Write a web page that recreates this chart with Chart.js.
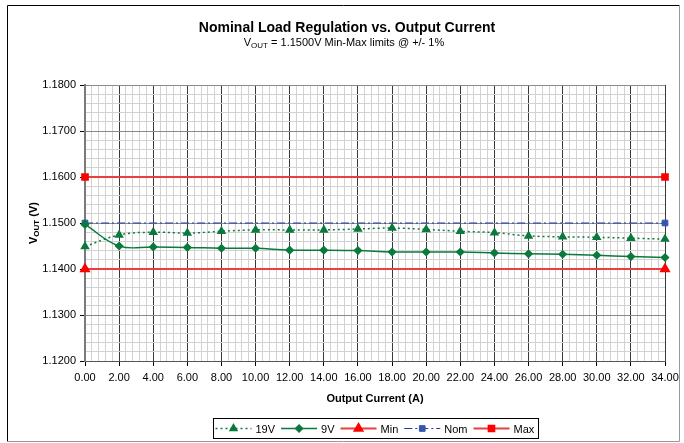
<!DOCTYPE html>
<html>
<head>
<meta charset="utf-8">
<script src="https://cdn.jsdelivr.net/npm/chart.js@4.4.0/dist/chart.umd.min.js"></script>
<style>
    html, body { margin: 0; padding: 0; background: #fff; }
    #wrap { width: 684px; height: 443px; position: relative; }
</style>
</head>
<body>
<div id="wrap"><canvas id="myChart"></canvas></div>
<script>
// values
const currents = [0, 2, 4, 6, 8, 10, 12, 14, 16, 18, 20, 22, 24, 26, 28, 30, 32, 34];
const v19 = [1.1449, 1.1474, 1.1480, 1.1478, 1.1482, 1.1485, 1.1485, 1.1485, 1.1487, 1.1489,
             1.1486, 1.1482, 1.1479, 1.1472, 1.1470, 1.1469, 1.1467, 1.1465];
const v9 = [1.1497, 1.1450, 1.1448, 1.1447, 1.1445, 1.1445, 1.1441, 1.1441, 1.1440, 1.1437,
            1.1437, 1.1437, 1.1435, 1.1433, 1.1432, 1.1430, 1.1427, 1.1425];
const limitX = [0, 34];
const minLimit = [1.14, 1.14];
const nomLimit = [1.15, 1.15];
const maxLimit = [1.16, 1.16];

const xMajorTicks = [0, 2, 4, 6, 8, 10, 12, 14, 16, 18, 20, 22, 24, 26, 28, 30, 32, 34];
const yMajorTicks = [1.12, 1.13, 1.14, 1.15, 1.16, 1.17, 1.18];
const xMinorPerMajor = 5;   // 0.4 A steps
const yMinorPerMajor = 5;   // 0.002 V steps

const FONT = '"Liberation Sans", Arial, sans-serif';
const GREEN = "#0a7a3c";

function pairs(xs, ys) {
    return xs.map((x, i) => ({ x: x, y: ys[i] }));
}

// builds minor grid positions between the major ticks
function withMinors(majors, per, digits) {
    const out = [];
    for (let i = 0; i < majors.length - 1; i++) {
        const step = (majors[i + 1] - majors[i]) / per;
        for (let k = 0; k < per; k++) {
            out.push({ value: +(majors[i] + k * step).toFixed(digits), major: k === 0 });
        }
    }
    out.push({ value: majors[majors.length - 1], major: true });
    return out;
}

function isMajor(ctx) {
    return ctx.tick && ctx.tick.major;
}

// text with a subscript part, e.g. V + OUT
function subText(ctx, parts, x, y, size, bold, align) {
    const w = parts.map(p => {
        ctx.font = (bold ? "bold " : "") + (p.sub ? Math.round(size * 0.72) : size) + "px " + FONT;
        return ctx.measureText(p.t).width;
    });
    const total = w.reduce((a, b) => a + b, 0);
    let px = align === "center" ? x - total / 2 : x;
    parts.forEach((p, i) => {
        ctx.font = (bold ? "bold " : "") + (p.sub ? Math.round(size * 0.72) : size) + "px " + FONT;
        ctx.fillText(p.t, px, p.sub ? y + size * 0.25 : y);
        px += w[i];
    });
}

const decorations = {
    id: "decorations",
    afterDraw(chart) {
        const ctx = chart.ctx;
        const area = chart.chartArea;
        ctx.save();

        // frame
        ctx.lineWidth = 1;
        ctx.strokeStyle = "#000";
        ctx.beginPath();
        ctx.moveTo(7.5, 441.5); ctx.lineTo(7.5, 5.5); ctx.lineTo(679.5, 5.5);
        ctx.stroke();
        ctx.strokeStyle = "#999";
        ctx.beginPath();
        ctx.moveTo(679.5, 5.5); ctx.lineTo(679.5, 441.5); ctx.lineTo(7.5, 441.5);
        ctx.stroke();

        // titles
        ctx.fillStyle = "#000";
        ctx.textBaseline = "middle";
        ctx.textAlign = "left";
        subText(ctx, [{ t: "Nominal Load Regulation vs. Output Current" }], 347, 28, 14, true, "center");
        subText(ctx, [{ t: "V" }, { t: "OUT", sub: true }, { t: " = 1.1500V Min-Max limits @ +/- 1%" }],
            344, 43, 11, false, "center");

        // y axis title
        ctx.save();
        ctx.translate(34, (area.top + area.bottom) / 2);
        ctx.rotate(-Math.PI / 2);
        subText(ctx, [{ t: "V" }, { t: "OUT", sub: true }, { t: " (V)" }], 0, 0, 11, true, "center");
        ctx.restore();

        // legend
        const items = chart.data.datasets;
        ctx.font = "11px " + FONT;
        const lineLen = 36, gapText = 4, gapItem = 6, padL = 2, padR = 4;
        let total = padL + padR;
        items.forEach((d, i) => {
            total += lineLen + gapText + ctx.measureText(d.label).width + (i < items.length - 1 ? gapItem : 0);
        });
        const bx = Math.round((area.left + area.right) / 2 - total / 2) + 0.5;
        const by = 418.5, bh = 20;
        ctx.strokeStyle = "#000";
        ctx.lineWidth = 1;
        ctx.strokeRect(bx, by, Math.round(total), bh);
        const cy = by + bh / 2;
        let px = bx + padL;
        items.forEach(d => {
            ctx.beginPath();
            ctx.setLineDash(d.borderDash || []);
            ctx.strokeStyle = d.borderColor;
            ctx.lineWidth = d.borderWidth;
            ctx.moveTo(px, cy);
            ctx.lineTo(px + lineLen, cy);
            ctx.stroke();
            ctx.setLineDash([]);
            ctx.fillStyle = d.pointBackgroundColor;
            ctx.strokeStyle = d.pointBorderColor;
            Chart.helpers.drawPoint(ctx, { pointStyle: d.pointStyle, radius: d.pointRadius, borderWidth: 1, rotation: 0 },
                px + lineLen / 2, cy);
            px += lineLen + gapText;
            ctx.fillStyle = "#000";
            ctx.fillText(d.label, px, cy + 1);
            px += ctx.measureText(d.label).width + gapItem;
        });
        ctx.restore();
    }
};

const datasets = [
    {
        label: "19V", data: pairs(currents, v19),
        borderColor: GREEN, borderWidth: 1.5, borderDash: [2, 3], tension: 0.4,
        pointStyle: "triangle", pointRadius: 4, pointBackgroundColor: GREEN, pointBorderColor: GREEN
    },
    {
        label: "9V", data: pairs(currents, v9),
        borderColor: GREEN, borderWidth: 1.5, tension: 0.4,
        pointStyle: "rectRot", pointRadius: 3.5, pointBackgroundColor: GREEN, pointBorderColor: GREEN
    },
    {
        label: "Min", data: pairs(limitX, minLimit),
        borderColor: "#e8403f", borderWidth: 2,
        pointStyle: "triangle", pointRadius: 4.5, pointBackgroundColor: "#ff0000", pointBorderColor: "#ff0000"
    },
    {
        label: "Nom", data: pairs(limitX, nomLimit),
        borderColor: "#1f3b99", borderWidth: 1, borderDash: [8, 3, 2, 3],
        pointStyle: "rect", pointRadius: 4, pointBackgroundColor: "#3556b0", pointBorderColor: "#3556b0"
    },
    {
        label: "Max", data: pairs(limitX, maxLimit),
        borderColor: "#e8403f", borderWidth: 2,
        pointStyle: "rect", pointRadius: 4, pointBackgroundColor: "#ff0000", pointBorderColor: "#ff0000"
    }
];
datasets.forEach(d => { d.clip = false; d.fill = false; });

let myChart;
const ctx = document.getElementById("myChart").getContext("2d");
myChart = new Chart(ctx, {
    type: "line",
    data: { datasets: datasets },
    plugins: [decorations],
    options: {
        responsive: true,
        maintainAspectRatio: false,
        animation: false,
        layout: { padding: { top: 85, right: 19, left: 0, bottom: 35 } },
        plugins: {
            legend: { display: false },
            title: { display: false },
            tooltip: { enabled: false }
        },
        scales: {
            x: {
                type: "linear",
                min: 0, max: 34,
                afterBuildTicks: scale => { scale.ticks = withMinors(xMajorTicks, xMinorPerMajor, 1); },
                afterFit: scale => { scale.height = 47; },
                ticks: {
                    autoSkip: false, maxRotation: 0, padding: 5,
                    color: "#000", font: { family: FONT, size: 11 },
                    callback: (value, i, ticks) => ticks[i].major ? value.toFixed(2) : ""
                },
                grid: {
                    color: c => isMajor(c) ? "#3a3a3a" : "#d2d2d2",
                    tickColor: c => isMajor(c) ? "#000" : "rgba(0,0,0,0)",
                    tickLength: 5, lineWidth: 1
                },
                border: { color: "#555", width: 1 },
                title: {
                    display: true, text: "Output Current (A)", color: "#000",
                    font: { family: FONT, size: 11, weight: "bold" },
                    padding: { top: 0, bottom: 2 }
                }
            },
            y: {
                min: 1.12, max: 1.18,
                afterBuildTicks: scale => { scale.ticks = withMinors(yMajorTicks, yMinorPerMajor, 3); },
                afterFit: scale => { scale.width = 85; },
                ticks: {
                    autoSkip: false, padding: 4,
                    color: "#000", font: { family: FONT, size: 11 },
                    callback: (value, i, ticks) => ticks[i].major ? value.toFixed(4) : ""
                },
                grid: {
                    color: c => isMajor(c) ? "#8a8a8a" : "#d2d2d2",
                    tickColor: c => isMajor(c) ? "#000" : "rgba(0,0,0,0)",
                    tickLength: 5, lineWidth: 1
                },
                border: { color: "#7a7a7a", width: 2 }
            }
        }
    }
});
</script>
</body>
</html>
